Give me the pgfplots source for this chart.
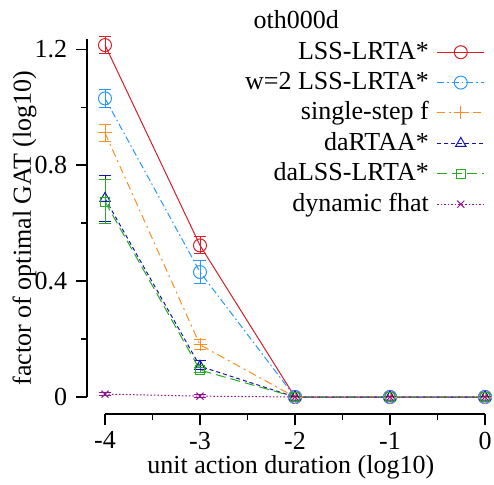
\documentclass[border=0pt]{standalone}
\usepackage{pgfplots}
\pgfplotsset{compat=1.18}
\usepackage{fontspec}
\setmainfont{Liberation Serif}
\newfontfamily\tnr{Liberation Serif}
\newcommand{\ff}{\tnr\fontsize{26bp}{30bp}\selectfont}
\definecolor{cred}{RGB}{212,30,40}
\definecolor{cblue}{RGB}{40,150,255}
\definecolor{corange}{RGB}{255,140,30}
\definecolor{cnavy}{RGB}{20,20,165}
\definecolor{cgreen}{RGB}{40,170,40}
\definecolor{cpurple}{RGB}{140,20,140}
\begin{document}
\ff
\begin{tikzpicture}
\useasboundingbox (0,0) rectangle (494bp,485bp);
\begin{axis}[
  at={(105bp,88bp)}, anchor=south west,
  scale only axis, width=380bp, height=358bp,
  xmin=-4, xmax=0, ymin=0, ymax=1.235,
  clip=false,
  axis x line=bottom, axis y line=left,
  axis x line shift=17bp, axis y line shift=18bp,
  axis line style={-, line width=2bp},
  tick align=outside,
  major tick length=11bp, minor tick length=6bp,
  every tick/.style={black, line width=1.2bp},
  xtick={-4,-3,-2,-1,0}, xticklabels={-4,-3,-2,-1,0},
  minor xtick={-3.5,-2.5,-1.5,-0.5},
  ytick={0,0.4,0.8,1.2}, yticklabels={0,0.4,0.8,1.2},
  minor ytick={0.2,0.6,1.0},
  tick label style={font=\ff},
  xticklabel style={yshift=2bp},
  every axis x label/.style={at={(axis description cs:0.489,-0.2125)}, anchor=base},
  every axis y label/.style={at={(axis description cs:-0.212,0.472)}, anchor=center, rotate=90},
  xlabel={unit action duration (log10)},
  ylabel={factor of optimal GAT (log10)},
  label style={font=\ff},
  title={oth000d},
  every axis title/.style={at={(axis description cs:0.503,1.028)}, anchor=base, font=\ff},
  legend image code/.code={\draw[mark repeat=2,mark phase=2] plot coordinates {(0bp,0bp) (23.5bp,0bp) (47bp,0bp)};},
  legend style={draw=none, fill=none, at={(axis description cs:1,1)}, anchor=north east,
    font=\ff, row sep=4.4bp, column sep=8bp, inner sep=0pt,
    nodes={inner sep=0pt, text height=20bp, text depth=6bp}},
  legend cell align=right, legend plot pos=right,
  every axis plot/.append style={line width=1bp},
  error bars/y dir=both, error bars/y explicit,
  error bars/error bar style={solid, line width=1bp},
  error bars/error mark options={solid, mark size=6bp, line width=1bp, rotate=90},
]
\addplot[cred, solid, mark=o, mark size=6.5bp, mark options={solid}] coordinates {
  (-4,1.214) +- (0,0.029) (-3,0.523) +- (0,0.029) (-2,0) +- (0,0.003) (-1,0) +- (0,0.003) (0,0) +- (0,0.003)};
\addlegendentry{LSS-LRTA*}
\addplot[cblue, dash pattern=on 7bp off 3bp on 1.5bp off 3bp, mark=o, mark size=6.5bp, mark options={solid}] coordinates {
  (-4,1.030) +- (0,0.031) (-3,0.431) +- (0,0.040) (-2,0) +- (0,0.003) (-1,0) +- (0,0.003) (0,0) +- (0,0.003)};
\addlegendentry{w=2 LSS-LRTA*}
\addplot[corange, dash pattern=on 8bp off 4bp on 2bp off 4bp, mark=+, mark size=6.5bp, mark options={solid}] coordinates {
  (-4,0.911) +- (0,0.030) (-3,0.180) +- (0,0.017) (-2,0) +- (0,0.003) (-1,0) +- (0,0.003) (0,0) +- (0,0.003)};
\addlegendentry{single-step f}
\addplot[cnavy, dash pattern=on 4bp off 3bp, mark=triangle, mark size=6bp, mark options={solid}] coordinates {
  (-4,0.685) +- (0,0.078) (-3,0.106) +- (0,0.020) (-2,0) +- (0,0.003) (-1,0) +- (0,0.003) (0,0) +- (0,0.003)};
\addlegendentry{daRTAA*}
\addplot[cgreen, dash pattern=on 10bp off 5bp, mark=square, mark size=4.5bp, mark options={solid}] coordinates {
  (-4,0.674) +- (0,0.075) (-3,0.093) +- (0,0.010) (-2,0) +- (0,0.003) (-1,0) +- (0,0.003) (0,0) +- (0,0.003)};
\addlegendentry{daLSS-LRTA*}
\addplot[cpurple, dash pattern=on 1.5bp off 2bp, mark=x, mark size=5bp, mark options={solid}] coordinates {
  (-4,0.010) +- (0,0.005) (-3,0.003) +- (0,0.004) (-2,0) +- (0,0.003) (-1,0) +- (0,0.003) (0,0) +- (0,0.003)};
\addlegendentry{dynamic fhat}
\end{axis}
\end{tikzpicture}
\end{document}
